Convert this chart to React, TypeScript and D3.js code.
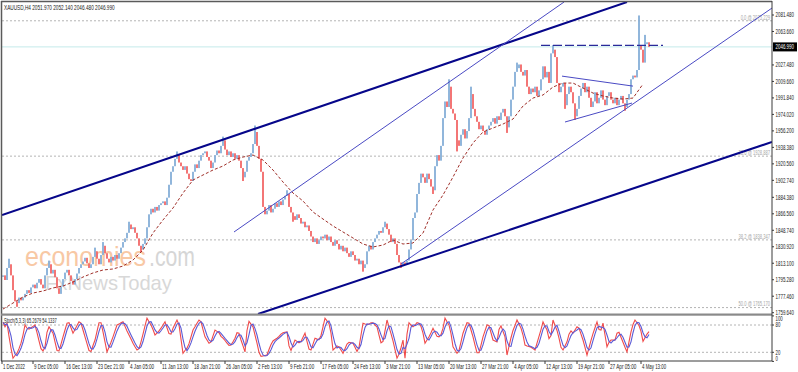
import React from "react";
import * as d3 from "d3";

// XAUUSD H4 closes, one per bar on screen, oldest first
const closes: number[] = [
  1800, 1795, 1808, 1812, 1800, 1784, 1772, 1770, 1776, 1773,
  1776, 1780, 1784, 1781, 1787, 1790, 1786, 1792, 1796, 1790,
  1786, 1800, 1808, 1812, 1802, 1806, 1798, 1786, 1780, 1788,
  1796, 1803, 1806, 1800, 1794, 1790, 1796, 1802, 1808, 1812,
  1815, 1819, 1813, 1808, 1812, 1820, 1826, 1818, 1812, 1822,
  1832, 1824, 1818, 1814, 1820, 1816, 1822, 1818, 1824, 1830,
  1836, 1840, 1846, 1855, 1850, 1852, 1846, 1840, 1832, 1828,
  1834, 1840, 1852, 1866, 1872, 1868, 1874, 1870, 1876, 1878,
  1880, 1876, 1884, 1898, 1912, 1918, 1926, 1930, 1922, 1918,
  1914, 1918, 1910, 1904, 1902, 1912, 1920, 1916, 1924, 1930,
  1932, 1934, 1928, 1924, 1916, 1922, 1930, 1935, 1932, 1940,
  1946, 1936, 1930, 1934, 1928, 1932, 1926, 1930, 1924, 1916,
  1906, 1912, 1924, 1928, 1932, 1942, 1955, 1940, 1926, 1912,
  1874, 1866, 1870, 1876, 1868, 1872, 1878, 1874, 1880, 1876,
  1882, 1886, 1888, 1874, 1868, 1864, 1860, 1866, 1862, 1856,
  1858, 1852, 1854, 1848, 1842, 1836, 1840, 1834, 1838, 1842,
  1840, 1844, 1838, 1842, 1836, 1832, 1838, 1834, 1828, 1832,
  1826, 1830, 1824, 1820, 1826, 1822, 1816, 1818, 1812, 1816,
  1808, 1812, 1826, 1832, 1828, 1836, 1840, 1844, 1848, 1846,
  1852, 1856, 1850, 1844, 1836, 1840, 1834, 1822, 1814, 1810,
  1814, 1812, 1816, 1828, 1838, 1862, 1868, 1888, 1900, 1910,
  1906, 1900, 1910, 1904, 1896, 1892, 1918, 1930, 1924, 1940,
  1970, 1988, 1982, 2004, 1980, 1975, 1968, 1946, 1940, 1952,
  1958, 1948, 1956, 1970, 1996, 1980, 1972, 1966, 1958, 1962,
  1956, 1952, 1958, 1962, 1966, 1970, 1964, 1972, 1968, 1976,
  1980, 1972, 1960, 1972, 1990, 2004, 2020, 2024, 2028, 2020,
  2016, 2022, 2004, 1996, 2002, 1998, 2004, 1994, 2000, 2012,
  2026, 2014, 2020, 2008, 2040, 2044, 2036, 2008, 1998, 2004,
  2008, 1984, 1996, 2004, 1998, 1986, 1972, 1980, 1994, 2002,
  2008, 1998, 2004, 1992, 1982, 1988, 1998, 1986, 1992, 2000,
  1990, 1984, 1994, 1998, 1990, 1986, 1992, 1984, 1990, 1994,
  1986, 1982, 1990, 1996, 2012, 2016, 2014, 2022, 2048, 2044,
  2030, 2050, 2052, 2047,
];

// bars whose wick reaches past open/close: [bar, price]
const wickHighs: [number, number][] = [
  [3, 1818], [23, 1816], [46, 1830], [50, 1836], [63, 1858], [87, 1934],
  [110, 1950], [126, 1962], [142, 1892], [191, 1858], [223, 2012],
  [234, 2004], [257, 2030], [275, 2049], [318, 2081], [321, 2060],
];
const wickLows: [number, number][] = [
  [7, 1766], [69, 1825], [120, 1902], [145, 1858], [180, 1804], [199, 1808],
  [215, 1888], [227, 1934], [252, 1954], [281, 1980], [286, 1968], [311, 1978],
];

// moving average, read every 5th bar
const maStep = 5;
const maValues: number[] = [
  1763.6, 1770.1, 1776.6, 1780.9, 1783.1, 1786.4, 1788.5, 1792.8, 1798.2, 1802.6,
  1805.8, 1806.9, 1810.1, 1816.6, 1827.4, 1845.8, 1859.9, 1872.8, 1889.0, 1903.1,
  1908.5, 1913.9, 1918.2, 1924.7, 1927.9, 1930.1, 1924.7, 1913.9, 1900.9, 1889.0,
  1880.4, 1868.5, 1860.9, 1853.4, 1846.9, 1840.4, 1833.9, 1830.7, 1832.8, 1838.2,
  1833.9, 1835.0, 1845.8, 1870.7, 1886.9, 1906.3, 1926.9, 1943.1, 1955.0, 1959.3,
  1963.6, 1969.0, 1983.1, 1991.7, 1995.0, 2003.6, 2007.9, 2007.9, 2002.5, 1997.1,
  1993.9, 1991.7, 1990.6, 1991.7, 2006.8,
];

// Stoch(5,3,3) main line, one per bar
const stochMain: number[] = [
  86, 76, 84, 55, 29, 7, 13, 18, 28, 40,
  58, 80, 73, 71, 74, 77, 80, 63, 45, 28,
  23, 32, 64, 76, 69, 62, 43, 24, 23, 38,
  54, 69, 84, 85, 74, 62, 70, 79, 87, 84,
  69, 54, 39, 24, 22, 35, 47, 66, 85, 85,
  65, 43, 21, 31, 42, 54, 67, 80, 82, 85,
  87, 77, 67, 58, 49, 40, 32, 25, 28, 43,
  60, 78, 95, 87, 80, 70, 58, 62, 67, 73,
  80, 87, 74, 61, 60, 73, 82, 91, 80, 49,
  18, 24, 29, 39, 54, 69, 76, 84, 91, 87,
  70, 54, 47, 40, 43, 56, 69, 66, 63, 55,
  51, 46, 40, 35, 36, 43, 51, 63, 62, 47,
  34, 21, 68, 88, 82, 76, 58, 40, 20, 11,
  12, 13, 14, 26, 37, 45, 48, 51, 55, 60,
  63, 64, 65, 34, 24, 36, 47, 44, 41, 44,
  53, 62, 44, 27, 25, 38, 51, 49, 48, 57,
  76, 95, 89, 83, 62, 25, 29, 34, 32, 25,
  18, 28, 38, 42, 41, 40, 31, 22, 31, 58,
  84, 82, 81, 82, 85, 85, 80, 76, 58, 41,
  44, 67, 91, 76, 61, 45, 26, 7, 16, 30,
  47, 7, 60, 85, 80, 76, 80, 85, 84, 77,
  62, 40, 47, 54, 63, 73, 64, 55, 54, 59,
  73, 95, 87, 80, 61, 32, 25, 18, 24, 43,
  62, 74, 85, 84, 69, 54, 36, 19, 19, 36,
  54, 67, 80, 79, 63, 47, 45, 43, 70, 78,
  66, 54, 14, 33, 52, 68, 79, 91, 82, 73,
  58, 36, 34, 33, 31, 28, 25, 40, 55, 70,
  87, 78, 69, 50, 57, 91, 79, 68, 51, 31,
  25, 34, 43, 60, 67, 62, 69, 76, 73, 60,
  47, 31, 14, 30, 46, 61, 74, 87, 70, 69,
  84, 58, 32, 42, 47, 47, 47, 62, 64, 53,
  42, 31, 21, 43, 65, 81, 91, 85, 79, 66,
  44, 52, 60, 65.27,
];

const priceTicks = [2081.48, 2063.66, 2027.48, 2009.66, 1991.84, 1974.02, 1956.2, 1938.38, 1920.56,
  1902.74, 1884.38, 1866.56, 1848.74, 1830.92, 1813.1, 1795.28, 1777.46, 1759.64];
const lastPrice = 2046.99;

const fibNames = ["0.0", "23.6", "38.2", "50.0"];
const fibPrices = [2075.229, 1928.887, 1838.347, 1765.17];

const dateLabels = ["1 Dec 2022", "9 Dec 05:00", "16 Dec 13:00", "23 Dec 21:00", "4 Jan 05:00",
  "11 Jan 13:00", "18 Jan 21:00", "26 Jan 05:00", "2 Feb 13:00", "9 Feb 21:00", "17 Feb 05:00",
  "24 Feb 13:00", "3 Mar 21:00", "13 Mar 05:00", "20 Mar 13:00", "27 Mar 21:00", "4 Apr 05:00",
  "12 Apr 13:00", "19 Apr 21:00", "27 Apr 05:00", "4 May 13:00"];

// drawn objects, anchored at [bar, price]
const channelLines: [number, number, number, number][] = [
  [-0.5, 1865.3, 312, 2095.5],
  [127.5, 1758.2, 384.5, 1944.2],
];
const thinLines: [number, number, number, number][] = [
  [115.5, 1846.9, 280.5, 2095.5],
  [199, 1812.3, 384.5, 2089.0],
  [279.5, 2015.4, 315, 2004.6],
  [281, 1965.8, 314.5, 1986.3],
];
const resistance: [number, number, number] = [269, 330, 2048.7];

const header = "XAUUSD,H4  2051.970 2052.140 2046.480 2046.990";
const stochLabel = "Stoch(5,3,3) 65.2679 54.1337";

const FONT = "'Liberation Sans', Arial, sans-serif";

export default function App() {
  const svgRef = React.useRef<SVGSVGElement>(null);

  const W = 798;
  const H = 372;
  const left = 2;
  const axisX = 772;
  const mainBottom = 314;
  const stochBottom = 361;

  React.useEffect(() => {
    const svg = d3.select(svgRef.current);
    svg.selectAll("*").remove();

    const x = d3.scaleLinear().domain([0, closes.length - 1]).range([3, 649]);
    const y = d3.scaleLinear().domain([1759.64, 2081.48]).range([312.7, 15]);
    const ys = d3.scaleLinear().domain([0, 100]).range([361.4, 315.9]);

    // MT4 labels are tiny and narrow: measure the text, then squeeze it horizontally to the picture's width
    const txt = (g: any, s: string, tx: number, ty: number, width: number, fill = "#222", size = 7, anchor = "start", mid = true) => {
      const t = g.append("text")
        .attr("font-family", FONT).attr("font-size", size)
        .attr("fill", fill).attr("text-anchor", anchor)
        .attr("dy", mid ? "0.35em" : null)
        .text(s);
      const w = (t.node() as SVGTextElement).getComputedTextLength();
      t.attr("transform", `translate(${tx},${ty}) scale(${w > 0 ? width / w : 1},1)`);
      return t;
    };

    svg.append("rect").attr("width", W).attr("height", H).attr("fill", "#fff");

    const defs = svg.append("defs");
    defs.append("clipPath").attr("id", "mainClip")
      .append("rect").attr("x", left).attr("y", 2).attr("width", axisX - left).attr("height", mainBottom - 2);
    defs.append("clipPath").attr("id", "stochClip")
      .append("rect").attr("x", left).attr("y", mainBottom + 1).attr("width", axisX - left).attr("height", stochBottom - mainBottom - 1);

    // watermark
    const wm = svg.append("g");
    txt(wm, "economies", 25, 266, 121, "#f8c8a4", 27, "start", false);
    txt(wm, ".com", 149, 266, 46, "#d6d6d6", 27, "start", false);
    txt(wm, "FxNewsToday", 45, 290, 127, "#d8d8d8", 20, "start", false);

    const main = svg.append("g").attr("clip-path", "url(#mainClip)");

    // fibonacci levels
    fibPrices.forEach((p, k) => {
      main.append("line").attr("x1", left).attr("x2", axisX).attr("y1", y(p)).attr("y2", y(p))
        .attr("stroke", "#b4b4b4").attr("stroke-dasharray", "2,2");
      const s = `${fibNames[k]} @ ${p.toFixed(3)}`;
      txt(main, s, axisX - 2, y(p) - 3.5, s.length * 2.1, "#a8a8a8", 6.5, "end");
    });

    // bid line
    main.append("line").attr("x1", left).attr("x2", axisX).attr("y1", y(lastPrice)).attr("y2", y(lastPrice))
      .attr("stroke", "#c4eaea");

    // bars
    const hiMap = new Map(wickHighs);
    const loMap = new Map(wickLows);
    const bars = closes.map((c, i) => {
      const o = i === 0 ? c : closes[i - 1];
      const hi = Math.max(o, c, hiMap.get(i) ?? -Infinity);
      const lo = Math.min(o, c, loMap.get(i) ?? Infinity);
      return { i, o, c, hi, lo };
    });
    main.selectAll(".bar").data(bars).enter().append("rect")
      .attr("x", (d) => x(d.i) - 0.9)
      .attr("width", 1.8)
      .attr("y", (d) => y(d.hi))
      .attr("height", (d) => Math.max(1.5, y(d.lo) - y(d.hi)))
      .attr("fill", (d) => (d.c >= d.o ? "#86aed8" : "#f26868"));

    // moving average
    const maLine = d3.line<number>().x((d, k) => x(k * maStep)).y((d) => y(d));
    main.append("path").attr("d", maLine(maValues)).attr("fill", "none")
      .attr("stroke", "#a0302a").attr("stroke-width", 1).attr("stroke-dasharray", "3,2");

    // channel and trend lines
    channelLines.forEach(([b1, p1, b2, p2]) => {
      main.append("line").attr("x1", x(b1)).attr("y1", y(p1)).attr("x2", x(b2)).attr("y2", y(p2))
        .attr("stroke", "#06068a").attr("stroke-width", 2);
    });
    thinLines.forEach(([b1, p1, b2, p2]) => {
      main.append("line").attr("x1", x(b1)).attr("y1", y(p1)).attr("x2", x(b2)).attr("y2", y(p2))
        .attr("stroke", "#4a4ac4").attr("stroke-width", 1);
    });
    main.append("line").attr("x1", x(resistance[0])).attr("x2", x(resistance[1]))
      .attr("y1", y(resistance[2])).attr("y2", y(resistance[2]))
      .attr("stroke", "#2a2a9a").attr("stroke-width", 1.2).attr("stroke-dasharray", "9,3");

    // stochastic panel
    const st = svg.append("g").attr("clip-path", "url(#stochClip)");
    [80, 20].forEach((v) => {
      st.append("line").attr("x1", left).attr("x2", axisX).attr("y1", ys(v)).attr("y2", ys(v))
        .attr("stroke", "#b4b4b4").attr("stroke-dasharray", "2,2");
    });
    const signal = stochMain.map((v, i) => d3.mean(stochMain.slice(Math.max(0, i - 2), i + 1)) as number);
    const sLine = d3.line<number>().x((d, i) => x(i)).y((d) => ys(d));
    st.append("path").attr("d", sLine(stochMain)).attr("fill", "none").attr("stroke", "#f04a4a").attr("stroke-width", 1.1);
    st.append("path").attr("d", sLine(signal)).attr("fill", "none").attr("stroke", "#5a5ad6").attr("stroke-width", 1.1);
    txt(svg, stochLabel, 4, 320.5, 53, "#222", 6.5);

    // frame and separators
    svg.append("line").attr("x1", 1.5).attr("x2", 1.5).attr("y1", 1).attr("y2", stochBottom).attr("stroke", "#5a5a5a").attr("stroke-width", 1.5);
    svg.append("line").attr("x1", 1).attr("x2", axisX).attr("y1", 1.5).attr("y2", 1.5).attr("stroke", "#5a5a5a").attr("stroke-width", 1.5);
    svg.append("rect").attr("x", 1).attr("y", mainBottom - 0.5).attr("width", axisX - 1).attr("height", 2.2).attr("fill", "#8a8a8a");
    svg.append("line").attr("x1", axisX).attr("x2", axisX).attr("y1", 1).attr("y2", stochBottom).attr("stroke", "#3a3a3a");
    svg.append("line").attr("x1", 1).attr("x2", axisX).attr("y1", stochBottom).attr("y2", stochBottom).attr("stroke", "#3a3a3a");

    // price axis
    const pa = svg.append("g");
    priceTicks.forEach((p) => {
      pa.append("line").attr("x1", axisX).attr("x2", axisX + 2).attr("y1", y(p)).attr("y2", y(p)).attr("stroke", "#3a3a3a");
      txt(pa, p.toFixed(3), axisX + 3.5, y(p), 18.5);
    });
    pa.append("rect").attr("x", axisX + 1).attr("y", y(lastPrice) - 4.5).attr("width", W - axisX - 2).attr("height", 9).attr("fill", "#000");
    txt(pa, lastPrice.toFixed(3), axisX + 3.5, y(lastPrice), 18.5, "#fff");

    // stochastic axis
    const sa = svg.append("g");
    [[100, 3], [80, 0], [20, 0], [0, -3]].forEach(([v, off]) => {
      sa.append("line").attr("x1", axisX).attr("x2", axisX + 2).attr("y1", ys(v)).attr("y2", ys(v)).attr("stroke", "#3a3a3a");
      txt(sa, String(v), axisX + 3.5, ys(v) + off, String(v).length * 2.4);
    });

    // time axis, a label every 16 bars
    const ta = svg.append("g");
    dateLabels.forEach((s, k) => {
      const bx = k === 0 ? 2 : x(15 + 16 * (k - 1));
      ta.append("line").attr("x1", bx).attr("x2", bx).attr("y1", stochBottom).attr("y2", stochBottom + 3).attr("stroke", "#3a3a3a");
      txt(ta, s, bx + 1, 366.5, s.length * 2.2, "#222", 6.5);
    });

    txt(svg, header, 4, 7.5, 111);
  }, []);

  return <svg ref={svgRef} width={W} height={H} style={{ position: "absolute", left: 0, top: 0 }} />;
}
